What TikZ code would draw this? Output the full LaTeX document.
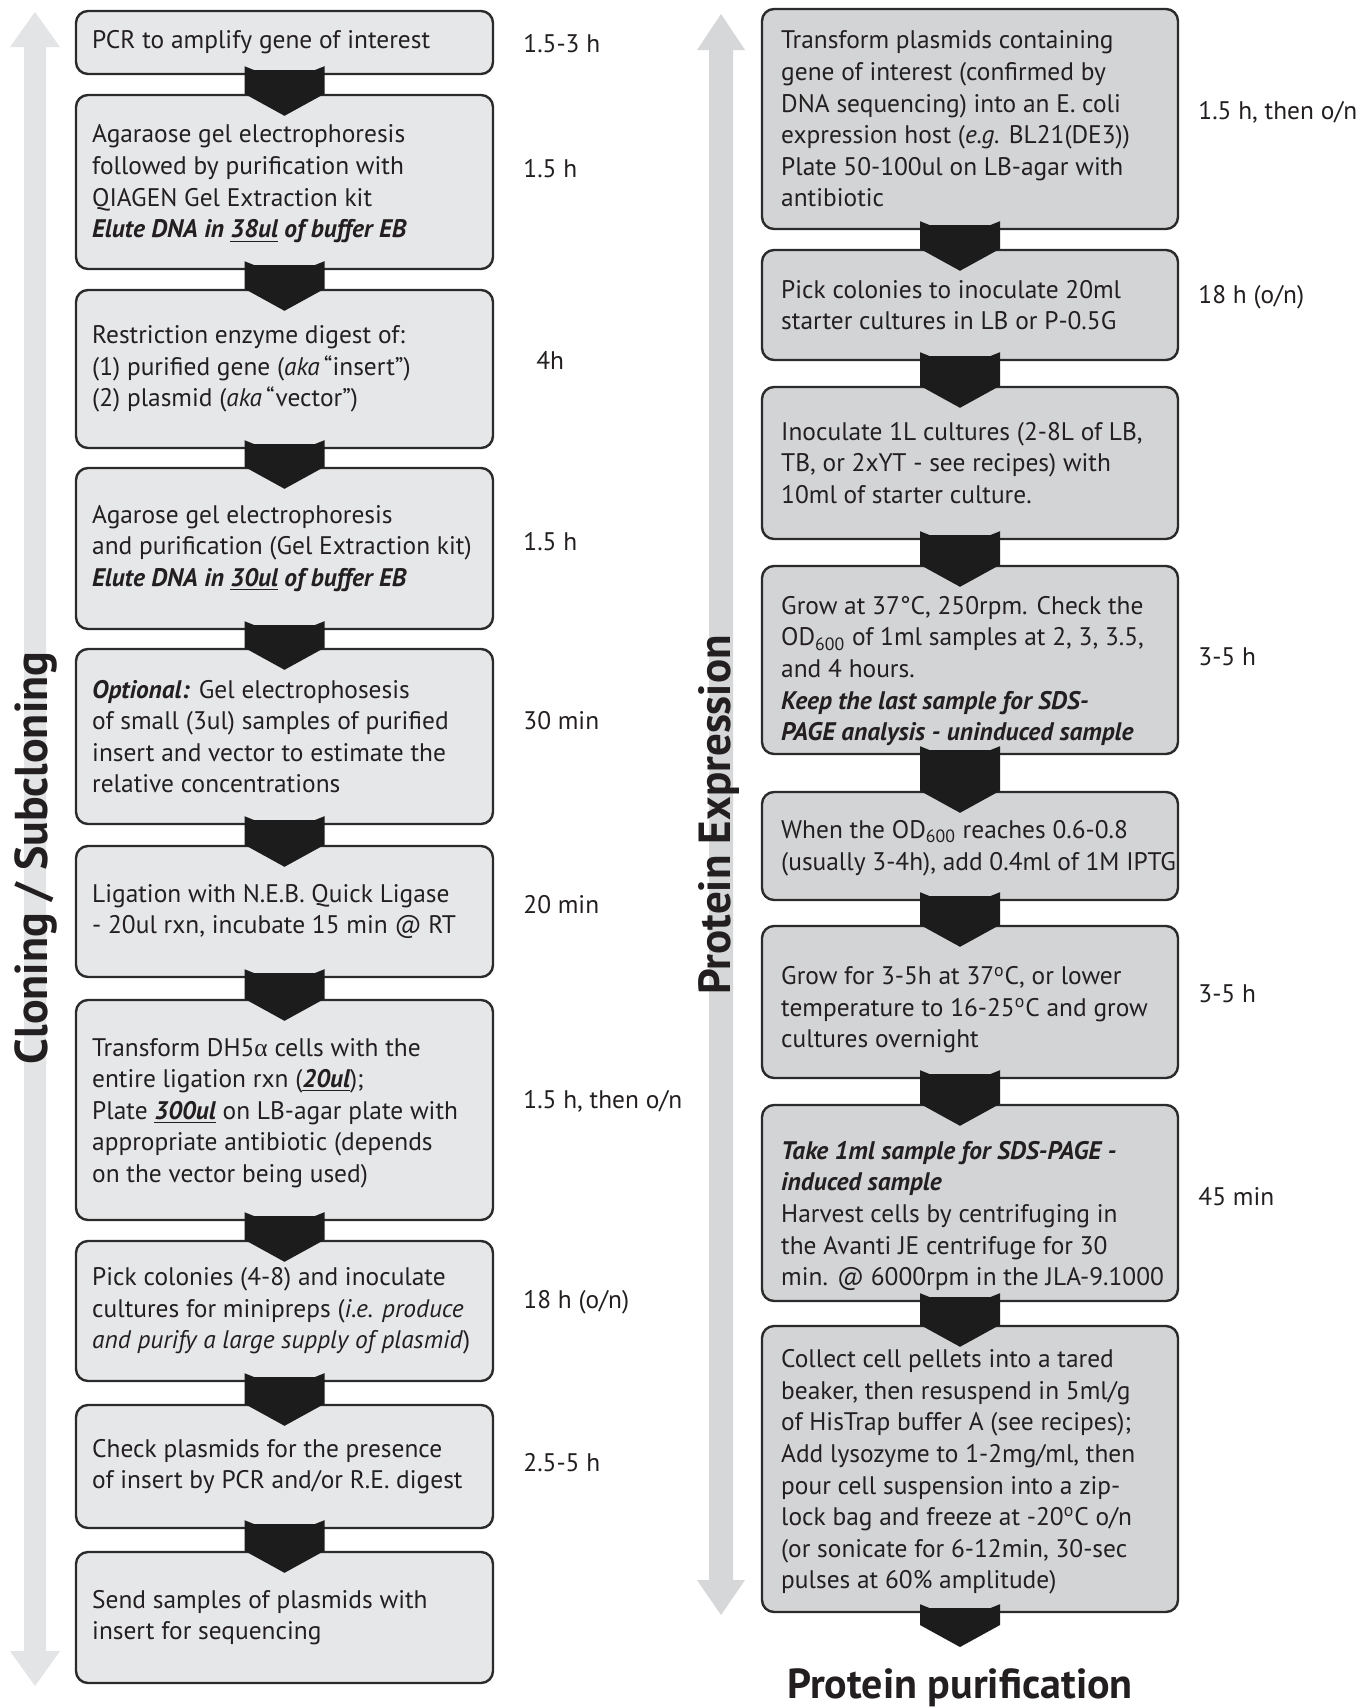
\documentclass[tikz,border=0pt]{standalone}
\usepackage{fontspec}
\setmainfont{PT Sans}
\newfontfamily\greekfont{Liberation Serif}
\usetikzlibrary{calc}
\definecolor{lfill}{HTML}{E6E7E9}
\definecolor{rfill}{HTML}{D3D4D6}
\definecolor{boxline}{HTML}{2B2B2B}
\definecolor{chevcol}{HTML}{1C1C1C}
\definecolor{larrow}{HTML}{E3E4E6}
\definecolor{rarrow}{HTML}{D6D7D9}
\definecolor{ink}{HTML}{231F20}
\newcommand{\bodyfont}{\fontsize{12.7pt}{15.8pt}\selectfont}
\newcommand{\bi}[1]{\textbf{\textit{#1}}}
\newcommand{\flowbox}[9][0pt]{% #1 text yshift, #2 name, #3 style, #4 left, #5 right, #6 top, #7 bottom, #8 text pad (pt), #9 text
  \node[#3, minimum width={(#5-#4)*0.5pt}, minimum height={(#7-#6)*0.5pt}] (#2) at ({(#4+#5)/2},{(#6+#7)/2}) {};
  \node[txt] (#2t) at ([xshift=#8,yshift=#1]#2.west) {#9};
}
\newcommand{\chev}[3][0pt]{% #1 x offset, #2 upper node, #3 lower node
  \fill[chevcol] ([xshift=#1-20pt,yshift=4.5pt]#2.south) -- ([xshift=#1-15pt,yshift=2.5pt]#2.south)
    -- ([xshift=#1+15pt,yshift=2.5pt]#2.south) -- ([xshift=#1+20pt,yshift=4.5pt]#2.south)
    -- ([xshift=#1+20pt]#3.north) -- ([xshift=#1,yshift=-11pt]#3.north) -- ([xshift=#1-20pt]#3.north) -- cycle;
}
\begin{document}
\begin{tikzpicture}[x=0.5pt,y=-0.5pt,
  lbox/.style={draw=boxline, line width=1.2pt, rounded corners=6pt, fill=lfill, inner sep=0pt},
  rbox/.style={draw=boxline, line width=1.2pt, rounded corners=6pt, fill=rfill, inner sep=0pt},
  txt/.style={anchor=west, align=left, inner sep=0pt, font=\bodyfont, text=ink},
  time/.style={anchor=west, inner sep=0pt, font=\bodyfont, text=ink},
  sidelabel/.style={rotate=90, anchor=base, inner sep=0pt, text=ink, font=\bfseries\fontsize{23pt}{26pt}\selectfont}]
\useasboundingbox (0,0) rectangle (1371,1708);
\fill[white] (0,0) rectangle (1371,1708);

% side arrows
\fill[larrow] (35,12) -- (60,47) -- (46,47) -- (46,1651) -- (60,1651) -- (35,1686) -- (10,1651) -- (24,1651) -- (24,47) -- (10,47) -- cycle;
\fill[rarrow] (721,14) -- (745,50) -- (733,50) -- (733,1580) -- (745,1580) -- (721,1615) -- (697,1580) -- (709,1580) -- (709,50) -- (697,50) -- cycle;
\node[sidelabel] (cloning) at (47,858) {Cloning / Subcloning};
\node[sidelabel, font=\bfseries\fontsize{22.5pt}{25pt}\selectfont] (expression) at (730,815) {Protein Expression};

% left column
\flowbox{L1}{lbox}{76}{493}{11}{74}{8.5pt}{PCR to amplify gene of interest}
\flowbox[-1pt]{L2}{lbox}{76}{493}{95}{269}{8.5pt}{Agaraose gel electrophoresis\\followed by purification with\\QIAGEN Gel Extraction kit\\\bi{Elute DNA in \underline{38ul} of buffer EB}}
\flowbox{L3}{lbox}{76}{493}{290}{448}{8.5pt}{Restriction enzyme digest of:\\(1) purified gene (\textit{aka}\,“insert”)\\(2) plasmid (\textit{aka}\,“vector”)}
\flowbox{L4}{lbox}{76}{493}{468}{629}{8.5pt}{Agarose gel electrophoresis\\and purification (Gel Extraction kit)\\\bi{Elute DNA in \underline{30ul} of buffer EB}}
\flowbox{L5}{lbox}{76}{493}{649}{824}{8.5pt}{\bi{Optional:} Gel electrophosesis\\of small (3ul) samples of purified\\insert and vector to estimate the\\relative concentrations}
\flowbox{L6}{lbox}{76}{493}{846}{977}{8.5pt}{Ligation with N.E.B. Quick Ligase\\- 20ul rxn, incubate 15 min @ RT}
\flowbox[-1.5pt]{L7}{lbox}{76}{493}{1000}{1220}{8.5pt}{Transform DH5{\greekfont α} cells with the\\entire ligation rxn (\bi{\underline{20ul}});\\Plate \bi{\underline{300ul}} on LB-agar plate with\\appropriate antibiotic (depends\\on the vector being used)}
\flowbox{L8}{lbox}{76}{493}{1241}{1381}{8.5pt}{Pick colonies (4-8) and inoculate\\cultures for minipreps (\textit{i.e. produce}\\\textit{and purify a large supply of plasmid})}
\flowbox{L9}{lbox}{76}{493}{1405}{1528}{8.5pt}{Check plasmids for the presence\\of insert by PCR and/or R.E. digest}
\flowbox{L10}{lbox}{76}{493}{1552}{1683}{8.5pt}{Send samples of plasmids with\\insert for sequencing}

% right column
\flowbox{R1}{rbox}{762}{1178}{9}{229}{10pt}{Transform plasmids containing\\gene of interest (confirmed by\\DNA sequencing) into an E. coli\\expression host (\textit{e.g.} BL21(DE3))\\Plate 50-100ul on LB-agar with\\antibiotic}
\flowbox{R2}{rbox}{762}{1178}{250}{360}{10pt}{Pick colonies to inoculate 20ml\\starter cultures in LB or P-0.5G}
\flowbox{R3}{rbox}{762}{1178}{387}{539}{10pt}{Inoculate 1L cultures (2-8L of LB,\\TB, or 2xYT - see recipes) with\\10ml of starter culture.}
\flowbox[-5.5pt]{R4}{rbox}{762}{1178}{566}{754}{10pt}{Grow at 37°C, 250rpm. Check the\\OD\textsubscript{600} of 1ml samples at 2, 3, 3.5,\\and 4 hours.\\\bi{Keep the last sample for SDS-}\\\bi{PAGE analysis - uninduced sample}}
\flowbox[-1pt]{R5}{rbox}{762}{1178}{792}{900}{10pt}{When the OD\textsubscript{600} reaches 0.6-0.8\\(usually 3-4h), add 0.4ml of 1M IPTG}
\flowbox[-4pt]{R6}{rbox}{762}{1178}{926}{1078}{10pt}{Grow for 3-5h at 37\textsuperscript{o}C, or lower\\temperature to 16-25\textsuperscript{o}C and grow\\cultures overnight}
\flowbox[-6.5pt]{R7}{rbox}{762}{1178}{1105}{1301}{10pt}{\bi{Take 1ml sample for SDS-PAGE -}\\\bi{induced sample}\\Harvest cells by centrifuging in\\the Avanti JE centrifuge for 30\\min. @ 6000rpm in the JLA-9.1000}
\flowbox[-1.5pt]{R8}{rbox}{762}{1178}{1326}{1612}{10pt}{Collect cell pellets into a tared\\beaker, then resuspend in 5ml/g\\of HisTrap buffer A (see recipes);\\Add lysozyme to 1-2mg/ml, then\\pour cell suspension into a zip-\\lock bag and freeze at -20\textsuperscript{o}C o/n\\(or sonicate for 6-12min, 30-sec\\pulses at 60\% amplitude)}

% end label
\node[anchor=base, inner sep=0pt, text=ink, font=\bfseries\fontsize{21pt}{24pt}\selectfont] (purif) at (960,1698) {Protein purification};
\coordinate (purtop) at (960,1625);

% times
\node[time] (T1) at (523,44) {1.5-3 h};
\node[time] (T2) at (523,169) {1.5 h};
\node[time] (T3) at (536,360) {4h};
\node[time] (T4) at (523,542) {1.5 h};
\node[time] (T5) at (523,721) {30 min};
\node[time] (T6) at (523,905) {20 min};
\node[time] (T7) at (523,1101) {1.5 h, then o/n};
\node[time] (T8) at (523,1302) {18 h (o/n)};
\node[time] (T9) at (523,1463) {2.5-5 h};
\node[time] (U1) at (1198,112) {1.5 h, then o/n};
\node[time] (U2) at (1198,297) {18 h (o/n)};
\node[time] (U4) at (1198,657) {3-5 h};
\node[time] (U6) at (1198,994) {3-5 h};
\node[time] (U7) at (1198,1197) {45 min};

% chevron connectors
\chev{L1}{L2}\chev{L2}{L3}\chev{L3}{L4}\chev{L4}{L5}\chev{L5}{L6}
\chev{L6}{L7}\chev{L7}{L8}\chev{L8}{L9}\chev{L9}{L10}
\chev[-5pt]{R1}{R2}\chev[-5pt]{R2}{R3}\chev[-5pt]{R3}{R4}\chev[-5pt]{R4}{R5}
\chev[-5pt]{R5}{R6}\chev[-5pt]{R6}{R7}\chev[-5pt]{R7}{R8}
\fill[chevcol] ([xshift=-25pt,yshift=4.5pt]R8.south) -- ([xshift=-20pt,yshift=2.5pt]R8.south)
  -- ([xshift=10pt,yshift=2.5pt]R8.south) -- ([xshift=15pt,yshift=4.5pt]R8.south)
  -- ([xshift=20pt]purtop) -- ([yshift=-11pt]purtop) -- ([xshift=-20pt]purtop) -- cycle;
\end{tikzpicture}
\end{document}
